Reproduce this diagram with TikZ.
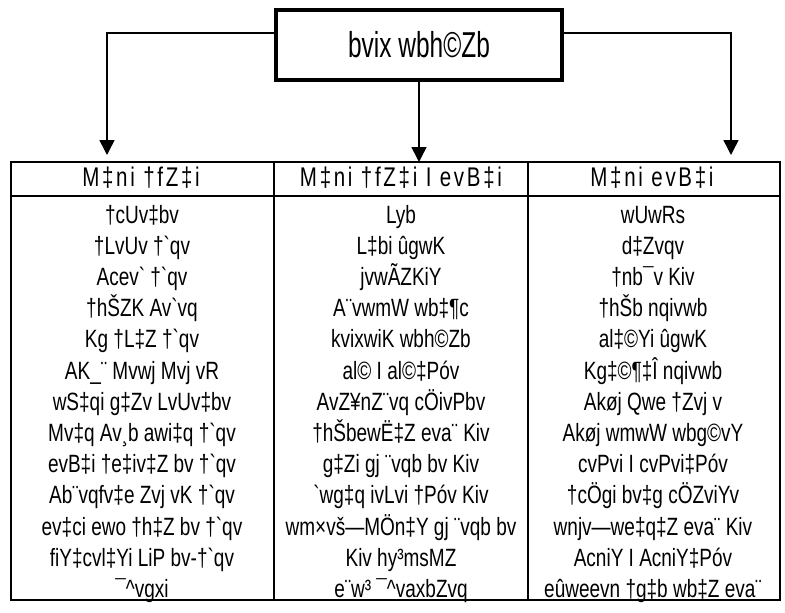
\documentclass[tikz,border=0pt]{standalone}
\usepackage{fontspec}
\newfontfamily\bnfont{Liberation Sans}[FakeStretch=0.76]
\newfontfamily\headfont{Liberation Sans}[FakeStretch=0.76, LetterSpace=10]
\newfontfamily\titlefont{Liberation Sans}[FakeStretch=0.68]
\usetikzlibrary{arrows.meta}

\tikzset{
    cell/.style={font=\bnfont\fontsize{25}{28}\selectfont, inner sep=0pt, text height=17pt, text depth=5pt},
    headcell/.style={cell, font=\headfont\fontsize{27}{30}\selectfont},
    link/.style={line width=1.5pt, -{Triangle[width=15pt,length=15pt]}},
    rule/.style={line width=2.5pt}
}

\begin{document}
\begin{tikzpicture}[x=1pt,y=-1pt]
        \useasboundingbox (0,0) rectangle (785,613);

        % title
        \node[draw, line width=4.5pt, minimum width=286pt, minimum height=70pt, font=\titlefont\fontsize{36}{40}\selectfont] at (419,45) (title) {bvix wbh©Zb};

        % table
        \draw[rule] (11,162) rectangle (780,600);
        \draw[rule] (11,196) -- (780,196);
        \draw[rule] (274,162) -- (274,600);
        \draw[rule] (528,162) -- (528,600);
        \coordinate (table top) at (0,162);
        \coordinate (left tip) at (107,155);
        \coordinate (right tip) at (731,155);

        % headings
        \node[headcell] at (141,180) (head left) {M‡ni †fZ‡i};
        \node[headcell] at (401,180) (head mid) {M‡ni †fZ‡i I evB‡i};
        \node[headcell] at (652,180) (head right) {M‡ni evB‡i};

        % rows
        \foreach \txt [count=\i] in {†cUv‡bv, †LvUv †`qv, Acev` †`qv, †hŠZK Av`vq, Kg †L‡Z †`qv, AK\_¨ Mvwj Mvj vR, wS‡qi g‡Zv LvUv‡bv, Mv‡q Av¸b awi‡q †`qv, evB‡i †e‡iv‡Z bv †`qv, Ab¨vqfv‡e Zvj vK †`qv, ev‡ci ewo †h‡Z bv †`qv, fiY‡cvl‡Yi LiP bv-†`qv, ¯\textasciicircum{}vgxi}
            \node[cell] at (142,{217+31.2*(\i-1)}) (left \i) {\txt};
        \foreach \txt [count=\i] in {Lyb, L‡bi ûgwK, jvwÃZKiY, A¨vwmW wb‡¶c, kvixwiK wbh©Zb, al© I al©‡Póv, AvZ¥nZ¨vq cÖivPbv, †hŠbewË‡Z eva¨ Kiv, g‡Zi gj ¨vqb bv Kiv, `wg‡q ivLvi †Póv Kiv, wm×vš—MÖn‡Y gj ¨vqb bv, Kiv hy³msMZ, e¨w³ ¯\textasciicircum{}vaxbZvq}
            \node[cell] at (401,{217+31.2*(\i-1)}) (mid \i) {\txt};
        \foreach \txt [count=\i] in {wUwRs, d‡Zvqv, †nb¯v Kiv, †hŠb nqivwb, al‡©Yi ûgwK, Kg‡©¶‡Î nqivwb, Akøj Qwe †Zvj v, Akøj wmwW wbg©vY, cvPvi I cvPvi‡Póv, †cÖgi bv‡g cÖZviYv, wnjv—we‡q‡Z eva¨ Kiv, AcniY I AcniY‡Póv, eûweevn †g‡b wb‡Z eva¨}
            \node[cell] at (653,{217+31.2*(\i-1)}) (right \i) {\txt};

        % links
        \draw[link] ([yshift=12pt]title.west) -| (left tip);
        \draw[link] ([yshift=12pt]title.east) -| (right tip);
        \draw[link] (title.south) -- (title.south |- table top);
    \end{tikzpicture}
\end{document}
